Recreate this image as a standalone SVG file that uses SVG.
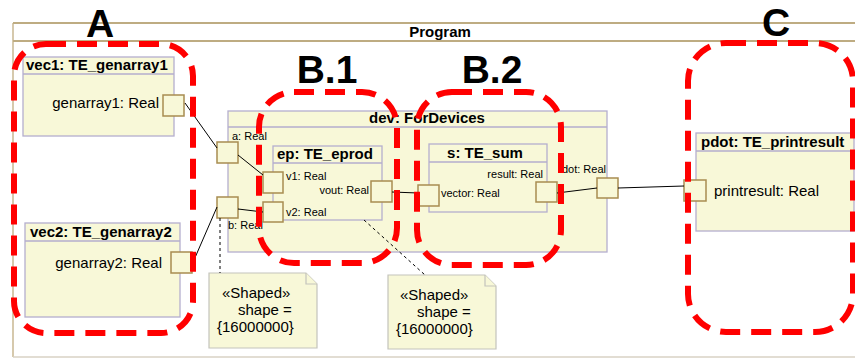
<svg xmlns="http://www.w3.org/2000/svg" width="855" height="358" viewBox="0 0 855 358">
<style>
text{font-family:"Liberation Sans",Arial,sans-serif;fill:#000}
.box{fill:#f8f8d8;stroke:#b4aece;stroke-width:1.3}
.port{fill:#f8f8d8;stroke:#a88c50;stroke-width:1.5}
.note{fill:#f8f8d8;stroke:#c4c4bc;stroke-width:1.2}
.title{font-weight:bold;font-size:15px}
.lbl{font-size:15px}
.sm{font-size:11px}
.big{font-weight:bold;font-size:39px}
.con{stroke:#000;stroke-width:1;fill:none}
.dash{stroke:#000;stroke-width:1;stroke-dasharray:3 3;fill:none}
.grp{fill:none;stroke:#ff0000;stroke-width:6;stroke-dasharray:20 11}
</style>
<rect width="855" height="358" fill="#ffffff"/>
<g id="program">
<line x1="13" y1="23" x2="855" y2="23" stroke="#a89058" stroke-width="1.3"/>
<line x1="13" y1="41" x2="855" y2="41" stroke="#a89058" stroke-width="1.3"/>
<line x1="13" y1="23" x2="13" y2="357" stroke="#c0ac80" stroke-width="1.3"/>
<line x1="13" y1="357" x2="855" y2="357" stroke="#d8d2c4" stroke-width="1.3"/>
<text x="440" y="37" class="title" font-size="14.5" text-anchor="middle">Program</text>
</g>
<g id="vec1">
<rect x="23" y="57" width="151" height="79" class="box"/>
<line x1="23" y1="74" x2="174" y2="74" class="box"/>
<text x="26" y="70" class="title">vec1: TE_genarray1</text>
<text x="159" y="108" class="lbl" text-anchor="end">genarray1: Real</text>
<rect x="163" y="95" width="21" height="21" class="port"/>
</g>
<g id="vec2">
<rect x="25" y="223" width="155" height="94" class="box"/>
<line x1="25" y1="241" x2="180" y2="241" class="box"/>
<text x="30" y="237" class="title">vec2: TE_genarray2</text>
<text x="162" y="268" class="lbl" text-anchor="end">genarray2: Real</text>
<rect x="171" y="252" width="21" height="21" class="port"/>
</g>
<g id="dev">
<rect x="228" y="111" width="379" height="141" class="box"/>
<line x1="228" y1="127" x2="607" y2="127" class="box"/>
<text x="427" y="123" class="title" text-anchor="middle">dev: ForDevices</text>
<text x="232" y="140" class="sm">a: Real</text>
<text x="228" y="229" class="sm">b: Real</text>
<text x="606" y="173" class="sm" text-anchor="end">dot: Real</text>
<rect x="217" y="142" width="21" height="21" class="port"/>
<rect x="217" y="197" width="21" height="21" class="port"/>
<rect x="597" y="178" width="21" height="20" class="port"/>
</g>
<g id="ep">
<rect x="273" y="146" width="109" height="74" class="box"/>
<line x1="273" y1="163" x2="382" y2="163" class="box"/>
<text x="277" y="159" class="title">ep: TE_eprod</text>
<text x="286" y="180" class="sm">v1: Real</text>
<text x="286" y="216" class="sm">v2: Real</text>
<text x="369" y="194" class="sm" text-anchor="end">vout: Real</text>
<rect x="263" y="172" width="20" height="21" class="port"/>
<rect x="263" y="202" width="20" height="20" class="port"/>
<rect x="371" y="181" width="21" height="21" class="port"/>
</g>
<g id="s">
<rect x="429" y="144" width="118" height="68" class="box"/>
<line x1="429" y1="162" x2="547" y2="162" class="box"/>
<text x="485" y="158" class="title" text-anchor="middle">s: TE_sum</text>
<text x="543" y="178" class="sm" text-anchor="end">result: Real</text>
<text x="441" y="197" class="sm">vector: Real</text>
<rect x="418" y="185" width="21" height="21" class="port"/>
<rect x="536" y="182" width="21" height="20" class="port"/>
</g>
<g id="pdot">
<rect x="696" y="133" width="158" height="98" class="box"/>
<line x1="696" y1="151" x2="854" y2="151" class="box"/>
<text x="701" y="147" class="title">pdot: TE_printresult</text>
<text x="714" y="196" class="lbl">printresult: Real</text>
<rect x="684" y="180" width="22" height="21" class="port"/>
</g>
<g id="note1">
<path d="M209,273 H306 L317,284 V348 H209 Z" class="note"/>
<path d="M306,273 V284 H317" class="note"/>
<text class="lbl"><tspan x="222" y="298">«Shaped»</tspan><tspan x="238" y="315">shape =</tspan><tspan x="217" y="332">{16000000}</tspan></text>
</g>
<g id="note2">
<path d="M388,275 H485 L496,286 V349 H388 Z" class="note"/>
<path d="M485,275 V286 H496" class="note"/>
<text class="lbl"><tspan x="400" y="300">«Shaped»</tspan><tspan x="417" y="317">shape =</tspan><tspan x="396" y="334">{16000000}</tspan></text>
</g>
<g id="connectors">
<line x1="185" y1="103" x2="217" y2="148" class="con"/>
<line x1="238" y1="155" x2="263" y2="175" class="con"/>
<line x1="194" y1="260" x2="217" y2="207" class="con"/>
<line x1="238" y1="209" x2="263" y2="212" class="con"/>
<line x1="392" y1="192" x2="418" y2="193" class="con"/>
<line x1="557" y1="193" x2="597" y2="188" class="con"/>
<line x1="618" y1="188" x2="684" y2="186" class="con"/>
<line x1="220" y1="218" x2="220" y2="273" class="dash"/>
<line x1="364" y1="220" x2="425" y2="275" class="dash"/>
</g>
<g id="groups">
<rect x="14" y="44" width="179" height="289" rx="32" class="grp"/>
<rect x="259" y="92" width="138" height="171" rx="35" class="grp"/>
<rect x="417" y="92" width="144" height="173" rx="35" class="grp"/>
<rect x="688" y="43" width="165" height="289" rx="38" class="grp"/>
<text x="100" y="37" class="big" text-anchor="middle">A</text>
<text x="327" y="83" class="big" text-anchor="middle">B.1</text>
<text x="492" y="83" class="big" text-anchor="middle">B.2</text>
<text x="776" y="36" class="big" text-anchor="middle">C</text>
</g>
</svg>
